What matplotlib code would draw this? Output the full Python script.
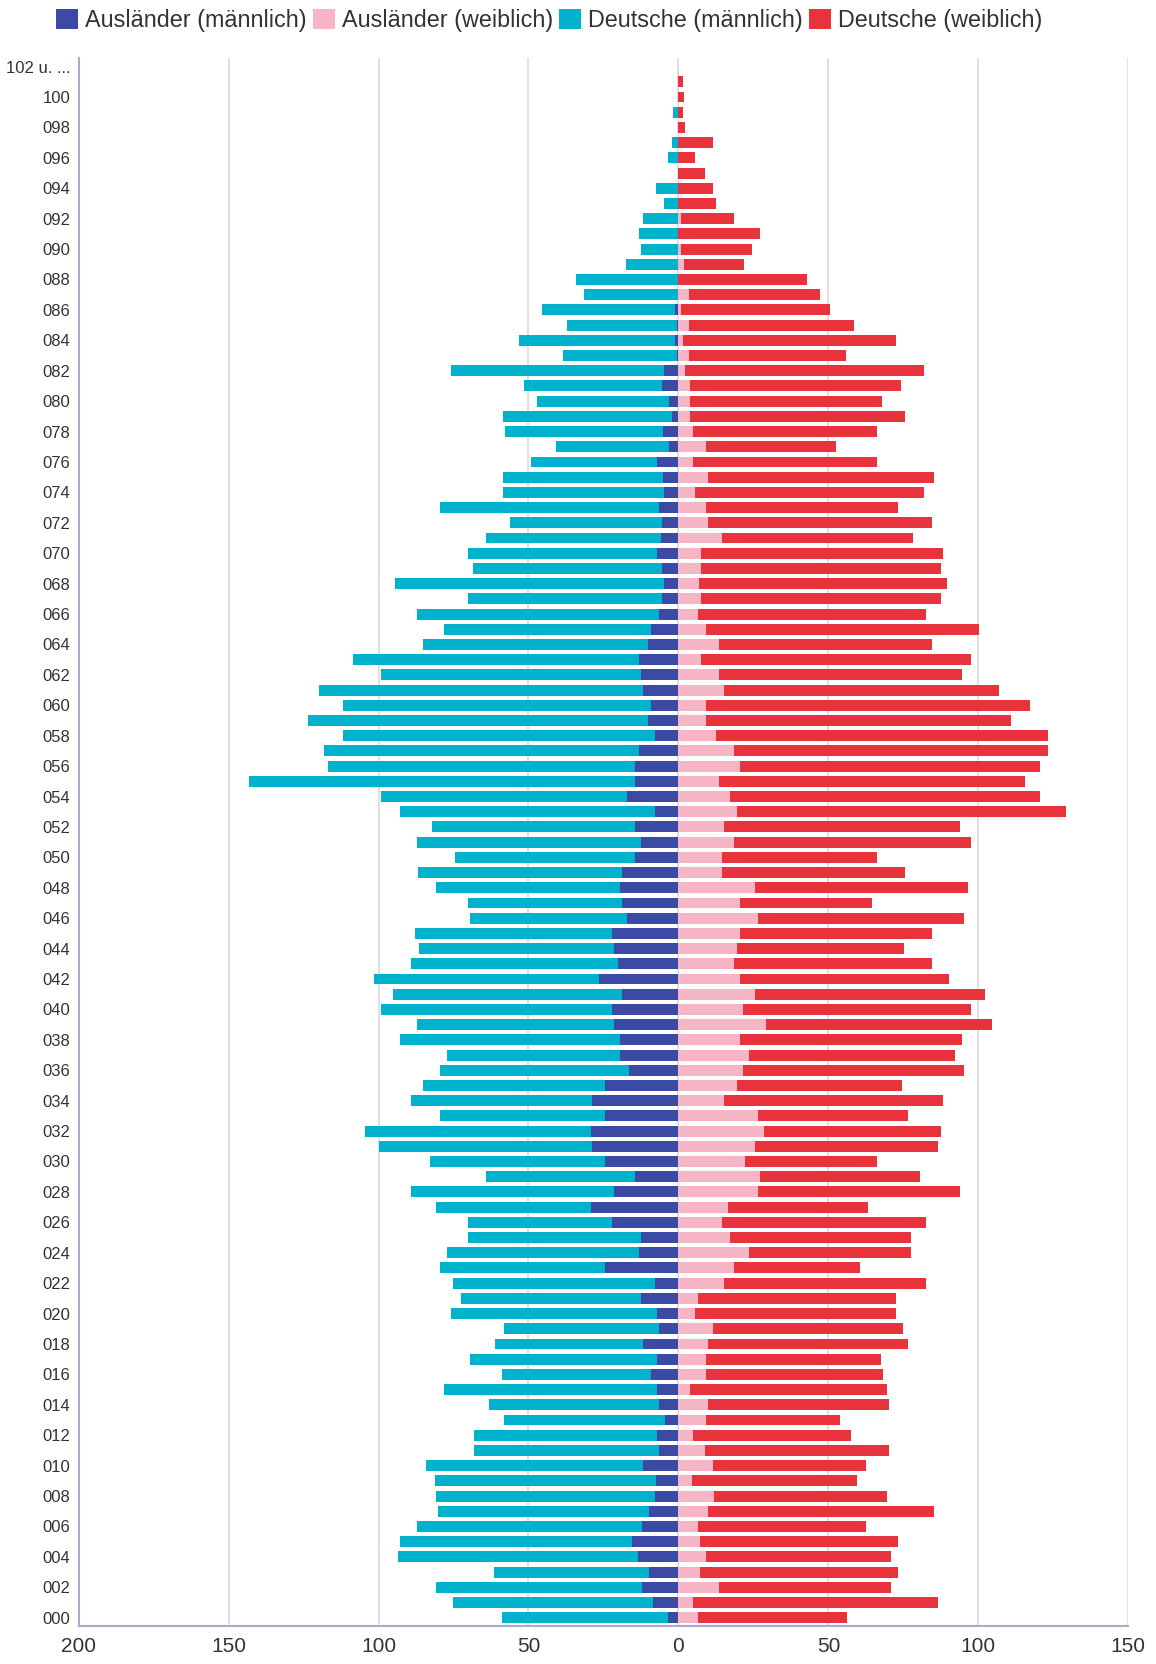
import numpy as np
import matplotlib
matplotlib.use("Agg")
import matplotlib.pyplot as plt
from matplotlib.ticker import FuncFormatter

plt.rcParams['font.family'] = ['Liberation Sans', 'DejaVu Sans']

# Alter 0 .. 102
ages = list(range(0, 103))
age_labels = ["%03d" % a for a in ages[:-1]] + ["102 u. ..."]

# Werte je Altersjahr, Alter 0 zuerst
auslaender_m = [3.4, 8.4, 12.1, 9.9, 13.5, 15.5, 12.1, 9.9, 7.9, 7.5,
                11.7, 6.5, 7.2, 4.4, 6.5, 7.2, 9.3, 7.2, 11.7, 6.5,
                7.2, 12.4, 7.9, 24.5, 13.1, 12.4, 22.2, 29.2, 21.5, 14.5,
                24.5, 28.7, 29.2, 24.5, 28.7, 24.5, 16.6, 19.4, 19.4, 21.5,
                22.0, 18.7, 26.6, 20.1, 21.5, 22.0, 17.1, 18.7, 19.4, 18.7,
                14.5, 12.4, 14.5, 7.9, 17.1, 14.5, 14.5, 13.1, 7.9, 10.3,
                9.3, 11.7, 12.4, 13.1, 10.0, 9.3, 6.5, 5.4, 4.7, 5.4,
                7.2, 5.8, 5.4, 6.5, 4.7, 5.1, 7.2, 3.0, 5.1, 2.3,
                3.0, 5.4, 4.7, 0.5, 1.0, 0.5, 1.0, 0.3, 0, 0,
                0, 0, 0, 0, 0, 0, 0, 0, 0, 0,
                0, 0, 0]
deutsche_m = [55.5, 66.7, 68.7, 51.7, 80.1, 77.4, 75.1, 70.1, 72.9, 73.5,
              72.6, 61.7, 61.0, 53.8, 56.6, 70.8, 49.6, 62.2, 49.3, 51.7,
              68.7, 60.0, 67.3, 54.9, 64.2, 57.9, 48.1, 51.6, 67.8, 49.5,
              58.4, 71.3, 75.2, 54.9, 60.6, 60.8, 62.8, 57.9, 73.6, 65.6,
              77.3, 76.4, 74.8, 69.2, 64.9, 65.9, 52.3, 51.6, 61.4, 68.0,
              60.0, 74.7, 67.7, 85.1, 82.2, 128.7, 102.5, 105.1, 104.0, 113.1,
              102.6, 108.2, 86.9, 95.3, 75.3, 68.7, 80.6, 64.9, 89.7, 63.1,
              63.1, 58.2, 50.7, 72.9, 53.7, 53.3, 41.8, 37.7, 52.6, 56.1,
              44.2, 46.0, 71.2, 38.1, 52.3, 36.6, 44.6, 31.2, 34.3, 17.5,
              12.4, 13.3, 11.7, 4.7, 7.5, 0, 3.5, 2.3, 0, 1.9,
              0, 0, 0]
auslaender_w = [6.4, 4.7, 13.5, 7.1, 9.1, 7.1, 6.4, 9.9, 11.8, 4.5,
                11.7, 8.9, 4.7, 9.3, 10.0, 3.7, 9.3, 9.3, 10.0, 11.7,
                5.4, 6.5, 15.2, 18.7, 23.6, 17.3, 14.5, 16.6, 26.4, 27.3,
                22.2, 25.7, 28.7, 26.4, 15.2, 19.4, 21.5, 23.4, 20.6, 29.2,
                21.5, 25.7, 20.6, 18.7, 19.4, 20.6, 26.4, 20.6, 25.7, 14.5,
                14.5, 18.7, 15.2, 19.4, 17.1, 13.6, 20.6, 18.7, 12.4, 9.3,
                9.3, 15.2, 13.6, 7.5, 13.6, 9.3, 6.5, 7.5, 6.8, 7.5,
                7.5, 14.5, 10.0, 9.3, 5.4, 10.0, 4.7, 9.3, 4.7, 4.0,
                4.0, 4.0, 2.3, 3.5, 1.5, 3.5, 1.0, 3.5, 0, 2.0,
                1.0, 0, 1.0, 0, 0, 0, 0, 0, 0, 0,
                0, 0, 0]
deutsche_w = [49.8, 82.0, 57.4, 66.1, 61.8, 66.1, 56.2, 75.3, 57.7, 55.2,
              50.9, 61.4, 53.0, 44.7, 60.3, 65.9, 58.9, 58.2, 66.6, 63.1,
              67.0, 65.9, 67.3, 41.8, 54.0, 60.3, 68.0, 46.7, 67.5, 53.1,
              43.9, 61.0, 58.9, 50.2, 72.9, 55.1, 73.6, 68.9, 74.0, 75.2,
              75.9, 76.6, 69.6, 65.9, 55.8, 64.0, 68.7, 44.1, 71.0, 61.0,
              51.6, 78.7, 78.7, 109.8, 103.5, 102.1, 100.0, 104.7, 111.0, 101.7,
              108.0, 91.8, 81.0, 89.9, 71.0, 90.9, 76.0, 80.1, 82.7, 80.1,
              80.6, 63.8, 74.6, 63.8, 76.4, 75.3, 61.4, 43.3, 61.4, 71.5,
              64.0, 70.3, 79.5, 52.5, 70.9, 54.9, 49.7, 43.7, 42.8, 20.0,
              23.5, 27.3, 17.7, 12.4, 11.7, 8.9, 5.4, 11.7, 2.3, 1.6,
              2.0, 1.6, 0]

series_names = ["Ausländer (männlich)", "Ausländer (weiblich)",
                "Deutsche (männlich)", "Deutsche (weiblich)"]
colors = ["#3b4ba5", "#f5b5c4", "#00b2cb", "#e8323c"]

am = np.array(auslaender_m)
dm = np.array(deutsche_m)
aw = np.array(auslaender_w)
dw = np.array(deutsche_w)
y = np.array(ages)

fig = plt.figure(figsize=(11.56, 16.64), dpi=100)
ax = fig.add_axes([0.068, 0.0228, 0.908, 0.9422])

h = 0.72
b1 = ax.barh(y, -am, height=h, color=colors[0], label=series_names[0], zorder=3)
b2 = ax.barh(y, aw, height=h, color=colors[1], label=series_names[1], zorder=3)
b3 = ax.barh(y, -dm, left=-am, height=h, color=colors[2], label=series_names[2], zorder=3)
b4 = ax.barh(y, dw, left=aw, height=h, color=colors[3], label=series_names[3], zorder=3)

ax.set_xlim(-200, 150)
ax.set_ylim(-0.55, 102.55)
ax.set_xticks([-200, -150, -100, -50, 0, 50, 100, 150])
ax.xaxis.set_major_formatter(FuncFormatter(lambda v, p: "%d" % abs(v)))
ax.set_yticks(ages[::2])
ax.set_yticklabels(age_labels[::2])
ax.grid(axis='x', color='#d9d9e0', linewidth=1.2, zorder=0)
ax.grid(axis='y', visible=False)

for s in ['top', 'right']:
    ax.spines[s].set_visible(False)
for s in ['left', 'bottom']:
    ax.spines[s].set_color('#a7abd0')
    ax.spines[s].set_linewidth(1.5)

ax.tick_params(axis='y', length=0, pad=6, labelsize=12, labelcolor='#333333')
ax.tick_params(axis='x', length=0, pad=8, labelsize=15, labelcolor='#333333')

fig.legend(handles=[b1, b2, b3, b4], loc='upper center', bbox_to_anchor=(0.475, 1.003),
           ncol=4, frameon=False, fontsize=16.8, handlelength=0.95, handleheight=0.95,
           handletextpad=0.3, columnspacing=0.25, borderaxespad=0.2, labelcolor='#333333')

fig.savefig("out.png", dpi=100)
